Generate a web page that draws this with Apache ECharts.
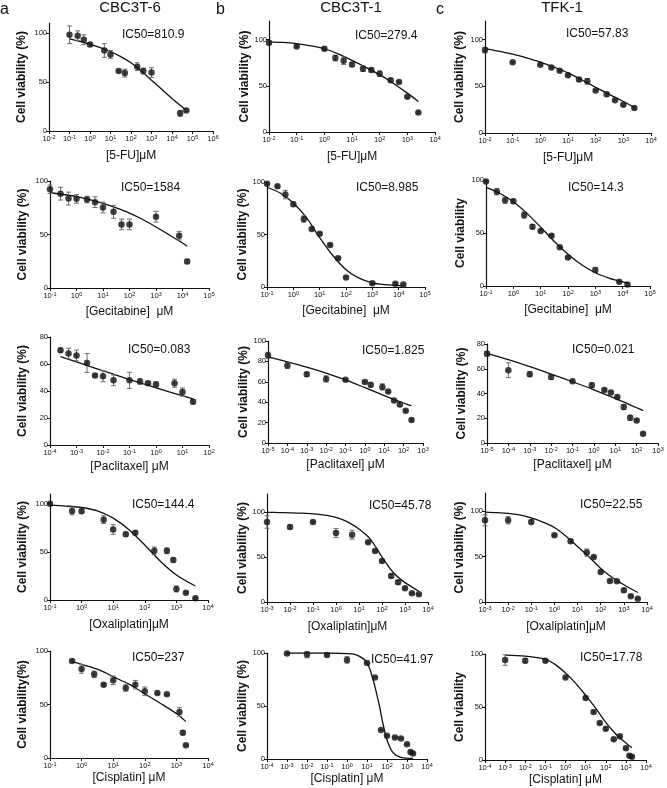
<!DOCTYPE html>
<html>
<head>
<meta charset="utf-8">
<script src="https://cdn.jsdelivr.net/npm/echarts@6/dist/echarts.min.js"></script>
<style>
    html, body { margin: 0; padding: 0; background: #fff; }
    #chart { width: 667px; height: 788px; }
</style>
</head>
<body>
<div id="chart"></div>
<script>
    // ---- tick lists ----
    var yTicks50 = [0, 50, 100];
    var yTicks20 = [0, 20, 40, 60, 80];
    var yTicks20b = [0, 20, 40, 60, 80, 100];
    var decM2to6 = [1e-2, 1e-1, 1, 10, 100, 1e3, 1e4, 1e5, 1e6];
    var decM2to4 = [1e-2, 1e-1, 1, 10, 100, 1e3, 1e4];
    var decM1to5 = [1e-1, 1, 10, 100, 1e3, 1e4, 1e5];
    var decM4to2 = [1e-4, 1e-3, 1e-2, 1e-1, 1, 10, 100];
    var decM5to3 = [1e-5, 1e-4, 1e-3, 1e-2, 1e-1, 1, 10, 100, 1e3];
    var decM1to4 = [1e-1, 1, 10, 100, 1e3, 1e4];
    var decM3to4 = [1e-3, 1e-2, 1e-1, 1, 10, 100, 1e3, 1e4];
    var decM4to4 = [1e-4, 1e-3, 1e-2, 1e-1, 1, 10, 100, 1e3, 1e4];

    // ---- row 1 : 5-FU ----
    var a1Dose = [0.1, 0.25, 0.5, 1, 5, 10, 25, 50, 200, 400, 1000, 25000, 50000];
    var a1Via = [98, 97, 93, 88, 82, 78, 61, 59, 65.5, 61, 59.5, 18, 21];
    var a1Err = [9, 5, 5, 2, 7, 4, 1, 4, 4, 3, 5, 3, 1];
    var a1FitX = [0.1, 0.316, 1, 3.16, 10, 31.6, 100, 316, 1000, 3162, 10000, 31623, 50000];
    var a1FitY = [93.8, 91.2, 88.3, 85, 81, 75.8, 69.5, 61.2, 51.8, 42.5, 33.2, 24.5, 21.5];

    var fuDose = [0.01, 0.1, 1, 2.5, 5, 10, 25, 50, 100, 250, 500, 1000, 2500];
    var b1Via = [96.4, 92.5, 90, 80, 77, 73, 68.5, 67, 63, 56, 54, 38, 21];
    var b1Err = [2, 1, 2, 3, 4, 2, 3, 2, 3, 2, 1, 1, 1];
    var b1FitX = [0.01, 0.0316, 0.1, 0.316, 1, 3.16, 10, 31.6, 100, 316, 1000, 2500];
    var b1FitY = [97.5, 96.8, 95.5, 93.2, 90, 84.5, 77.5, 70, 62, 52.5, 42, 33];

    var c1Via = [88.8, 75.8, 73, 70.2, 66.7, 61.8, 57.2, 55.4, 45.6, 41.4, 35.1, 30.2, 26.7];
    var c1Err = [3, 1, 1, 1, 1, 1, 2, 3, 1, 2, 1, 1, 1];
    var c1FitX = [0.01, 0.0316, 0.1, 0.316, 1, 3.16, 10, 31.6, 100, 316, 1000, 2500];
    var c1FitY = [90.5, 87.7, 84.5, 80.5, 76, 70.5, 64.5, 56.8, 49, 41.2, 33.8, 27.5];

    // ---- row 2 : gemcitabine ----
    var gemDose = [0.1, 0.25, 0.5, 1, 2.5, 5, 10, 25, 50, 100, 1000, 7500, 15000];
    var a2Via = [92.3, 88.2, 83.6, 83.3, 82.7, 80.2, 75.2, 71.2, 59.4, 59.4, 66.6, 48.9, 24.8];
    var a2Err = [4, 6, 6, 4, 3, 5, 5, 6, 5, 5, 5, 4, 2];
    var a2FitX = [0.1, 0.316, 1, 3.16, 10, 31.6, 100, 316, 1000, 3162, 10000, 15000];
    var a2FitY = [89, 87.4, 85.5, 82.6, 79, 74.8, 70, 64, 57, 49.6, 42, 39];

    var b2Via = [98.4, 96, 88, 78.9, 64.7, 55.2, 50.8, 40, 27.4, 9, 3.5, 3, 2.5];
    var b2Err = [1, 1, 4, 2, 3, 1, 1, 1, 1, 1, 1, 1, 1];
    var b2FitX = [0.1, 0.316, 1, 3.16, 10, 31.6, 100, 316, 1000, 3162, 10000, 15000];
    var b2FitY = [95, 89.5, 80, 66, 47, 30, 16.5, 8.5, 4, 2.2, 1.3, 1.1];

    var c2Via = [98.7, 89, 81, 80, 67, 56, 52, 47.5, 36.5, 27, 15, 4, 1.3];
    var c2Err = [1, 3, 3, 2, 3, 2, 1, 1, 1, 1, 2, 1, 1];
    var c2FitX = [0.1, 0.316, 1, 3.16, 10, 31.6, 100, 316, 1000, 3162, 10000, 15000];
    var c2FitY = [93, 87.5, 79.5, 68.5, 55.5, 42, 30, 20, 12.5, 7.5, 3.8, 3];

    // ---- row 3 : paclitaxel ----
    var a3Dose = [0.00025, 0.0005, 0.001, 0.0025, 0.005, 0.01, 0.025, 0.1, 0.25, 0.5, 1, 5, 10, 25];
    var a3Via = [70.2, 67.7, 66.3, 60.8, 51.4, 50.9, 47.9, 47.9, 47.1, 45.7, 44.9, 45.7, 39.2, 32];
    var a3Err = [1.5, 4, 4, 7, 1, 4, 4, 6, 2, 1, 2, 3, 3, 1.5];
    var a3FitX = [0.00025, 0.001, 0.00316, 0.01, 0.0316, 0.1, 0.316, 1, 3.16, 10, 25];
    var a3FitY = [65.5, 61.6, 58.3, 55, 51.7, 48.5, 45.4, 42.4, 39.4, 36.5, 34.2];

    var b3Dose = [1e-5, 1e-4, 1e-3, 0.01, 0.1, 1, 2, 8, 16, 32, 64, 128, 256];
    var b3Via = [86, 76, 67.3, 62.8, 61.9, 59.7, 57, 55, 50.5, 41.7, 37.7, 31.5, 22.5];
    var b3Err = [3, 3, 2, 3, 1, 1, 2, 3, 1, 1, 2, 1, 1];
    var b3FitX = [1e-5, 1e-4, 1e-3, 0.01, 0.1, 1, 10, 100, 256];
    var b3FitY = [84.4, 79.6, 74.4, 68.6, 61.8, 54.2, 46.4, 39.2, 36.3];

    var c3Dose = [1e-5, 1e-4, 1e-3, 0.01, 0.1, 0.8, 3.1, 6.25, 12.5, 25, 50, 100, 200];
    var c3Via = [72.2, 58.8, 55.6, 53.4, 50, 46.7, 42.9, 40.8, 37.1, 29, 20.4, 18.2, 7.5];
    var c3Err = [2, 6, 2, 2, 1, 2, 1, 1, 1, 2, 2, 1, 1];
    var c3FitX = [1e-5, 1e-4, 1e-3, 0.01, 0.1, 1, 10, 100, 200];
    var c3FitY = [72.5, 67.3, 61.7, 55.7, 49.5, 43, 36, 28.5, 26.2];

    // ---- row 4 : oxaliplatin ----
    var a4Dose = [0.1, 0.5, 1, 5, 10, 25, 50, 200, 500, 800, 1000, 2000, 4000];
    var a4Via = [100, 92.4, 92.1, 83.4, 73.1, 68.3, 69.7, 51, 51, 41.4, 11.4, 7.6, 1.7];
    var a4Err = [1, 4, 2, 4, 5, 2, 2, 4, 3, 2, 3, 1, 1];
    var a4FitX = [0.1, 0.316, 1, 3.16, 10, 31.6, 100, 316, 1000, 4000];
    var a4FitY = [98.5, 97.5, 96, 92.5, 85, 73, 57, 40, 26, 14.5];

    var oxaDose = [0.001, 0.01, 0.1, 1, 5, 25, 50, 100, 250, 500, 1000, 2000, 4000];
    var b4Via = [88.9, 83.3, 88.9, 76.7, 74.8, 66.3, 56.7, 45.6, 28.9, 21.9, 15.2, 9.6, 8.5];
    var b4Err = [7, 2, 1, 5, 5, 1, 1, 1, 2, 2, 1, 1, 1];
    var b4FitX = [0.001, 0.00316, 0.01, 0.0316, 0.1, 0.316, 1, 3.16, 10, 31.6, 100, 316, 1000, 4000];
    var b4FitY = [99.6, 99.4, 99.1, 98.7, 98, 96.5, 94, 89, 81, 69.5, 50, 32.5, 21.5, 12];

    var c4Via = [90, 90, 88.2, 73.5, 66.9, 54.4, 49.6, 33.1, 23.2, 22.9, 12.9, 6.3, 3.7];
    var c4Err = [6, 4, 2, 1, 2, 4, 1, 1, 1, 1, 2, 1, 1];
    var c4FitX = [0.001, 0.00316, 0.01, 0.0316, 0.1, 0.316, 1, 3.16, 10, 31.6, 100, 316, 1000, 4000];
    var c4FitY = [99, 98.4, 97.5, 95.8, 92.5, 88, 82, 72.5, 61, 49.5, 37, 27, 19, 10.5];

    // ---- row 5 : cisplatin ----
    var a5Dose = [0.5, 1, 2.5, 5, 10, 25, 50, 100, 250, 500, 1250, 1600, 2000];
    var a5Via = [90.7, 83.2, 78.2, 68.5, 72.6, 65.4, 68.5, 62.3, 60.7, 59.5, 43, 23.7, 11.8];
    var a5Err = [1, 4, 3, 1, 4, 3, 4, 4, 1, 1, 4, 2, 1];
    var a5FitX = [0.5, 1, 3.16, 10, 31.6, 100, 316, 1000, 2000];
    var a5FitY = [90, 87.5, 83, 76, 69, 60, 51, 41.5, 34];

    var cisDose = [0.001, 0.01, 0.1, 1, 10, 25, 50, 100, 250, 500, 1000, 1500, 2000];
    var b5Via = [99.5, 98.5, 98.1, 93.5, 90.6, 77, 27.3, 22, 20.4, 19.4, 13.8, 6.6, 5.3];
    var b5Err = [1, 3, 1, 3, 0.5, 0.5, 0.5, 0.5, 0.5, 0.5, 0.5, 1, 1];
    var b5FitX = [0.001, 0.1, 1, 3.16, 10, 20, 30, 42, 60, 100, 200, 500, 2000];
    var b5FitY = [100, 100, 99.5, 98, 91, 75, 62, 50, 35, 18, 6, 1.5, 0.5];

    var c5Via = [94.3, 93.6, 93.6, 77.9, 58.5, 45.2, 34.8, 29.4, 19.6, 22.4, 11, 4.1, 3.1];
    var c5Err = [5, 2, 1, 1, 1, 1, 1, 1, 1, 1, 1, 1, 1];
    var c5FitX = [0.001, 0.01, 0.1, 0.316, 1, 3.16, 10, 31.6, 100, 316, 1000, 2000];
    var c5FitY = [99, 98, 95, 90, 82, 72.5, 61, 49, 35.5, 24.5, 16, 11.5];

    var cellLines = ['CBC3T-6', 'CBC3T-1', 'TFK-1'];
    var panelLetters = ['a', 'b', 'c'];

    var FONT = '"Liberation Sans", Arial, sans-serif';
    var viaPct = 'Cell viability (%)';

    // g = [left, top, width, height], icAt = [left, middle y] of the IC50 text
    var panels = [
        {g: [49, 23, 164, 108], x: decM2to6, yMax: 110, yt: yTicks50, dose: a1Dose, via: a1Via, err: a1Err, fx: a1FitX, fy: a1FitY, ic: 'IC50=810.9', icAt: [122, 35], yName: viaPct, xName: '[5-FU]μM', yGap: 21, xGap: 19},
        {g: [269, 21, 166, 111], x: decM2to4, yMax: 120, yt: yTicks50, dose: fuDose, via: b1Via, err: b1Err, fx: b1FitX, fy: b1FitY, ic: 'IC50=279.4', icAt: [355, 36], yName: viaPct, xName: '[5-FU]μM', yGap: 17, xGap: 19},
        {g: [485, 21, 166, 112], x: decM2to4, yMax: 120, yt: yTicks50, dose: fuDose, via: c1Via, err: c1Err, fx: c1FitX, fy: c1FitY, ic: 'IC50=57.83', icAt: [566, 34], yName: viaPct, xName: '[5-FU]μM', yGap: 19, xGap: 19},

        {g: [50, 181, 159, 107], x: decM1to5, yMax: 100, yt: yTicks50, dose: gemDose, via: a2Via, err: a2Err, fx: a2FitX, fy: a2FitY, ic: 'IC50=1584', icAt: [121, 188], yName: viaPct, xName: '[Gecitabine]  μM', yGap: 21, xGap: 18},
        {g: [267, 182, 158, 105], x: decM1to5, yMax: 100, yt: yTicks50, dose: gemDose, via: b2Via, err: b2Err, fx: b2FitX, fy: b2FitY, ic: 'IC50=8.985', icAt: [356, 188], yName: viaPct, xName: '[Gecitabine]  μM', yGap: 17, xGap: 18},
        {g: [486, 180, 164, 106], x: decM1to5, yMax: 100, yt: yTicks50, dose: gemDose, via: c2Via, err: c2Err, fx: c2FitX, fy: c2FitY, ic: 'IC50=14.3', icAt: [568, 188], yName: 'Cell viability', xName: '[Gecitabine]  μM', yGap: 19, xGap: 18},

        {g: [50, 337, 159, 108], x: decM4to2, yMax: 80, yt: yTicks20, dose: a3Dose, via: a3Via, err: a3Err, fx: a3FitX, fy: a3FitY, ic: 'IC50=0.083', icAt: [128, 350], yName: viaPct, xName: '[Paclitaxel] μM', yGap: 21, xGap: 16},
        {g: [268, 341, 155, 102], x: decM5to3, yMax: 100, yt: yTicks20b, dose: b3Dose, via: b3Via, err: b3Err, fx: b3FitX, fy: b3FitY, ic: 'IC50=1.825', icAt: [362, 351], yName: viaPct, xName: '[Paclitaxel] μM', yGap: 17, xGap: 16},
        {g: [487, 344, 171, 99], x: decM5to3, yMax: 80, yt: yTicks20, dose: c3Dose, via: c3Via, err: c3Err, fx: c3FitX, fy: c3FitY, ic: 'IC50=0.021', icAt: [572, 350], yName: viaPct, xName: '[Paclitaxel] μM', yGap: 19, xGap: 16},

        {g: [50, 494, 158, 106], x: decM1to4, yMax: 110, yt: yTicks50, dose: a4Dose, via: a4Via, err: a4Err, fx: a4FitX, fy: a4FitY, ic: 'IC50=144.4', icAt: [132, 505], yName: viaPct, xName: '[Oxaliplatin]μM', yGap: 21, xGap: 19},
        {g: [267, 494, 161, 108], x: decM3to4, yMax: 120, yt: yTicks50, dose: oxaDose, via: b4Via, err: b4Err, fx: b4FitX, fy: b4FitY, ic: 'IC50=45.78', icAt: [369, 506], yName: viaPct, xName: '[Oxaliplatin]μM', yGap: 17, xGap: 19},
        {g: [485, 493, 162, 109], x: decM3to4, yMax: 120, yt: yTicks50, dose: oxaDose, via: c4Via, err: c4Err, fx: c4FitX, fy: c4FitY, ic: 'IC50=22.55', icAt: [580, 505], yName: viaPct, xName: '[Oxaliplatin]μM', yGap: 19, xGap: 19},

        {g: [50, 651, 158, 107], x: decM1to4, yMax: 100, yt: yTicks50, dose: a5Dose, via: a5Via, err: a5Err, fx: a5FitX, fy: a5FitY, ic: 'IC50=237', icAt: [132, 658], yName: 'Cell viability(%)', xName: '[Cisplatin] μM', yGap: 21, xGap: 13},
        {g: [267, 653, 160, 106], x: decM4to4, yMax: 100, yt: yTicks50, dose: cisDose, via: b5Via, err: b5Err, fx: b5FitX, fy: b5FitY, ic: 'IC50=41.97', icAt: [371, 660], yName: viaPct, xName: '[Cisplatin] μM', yGap: 17, xGap: 13},
        {g: [485, 654, 161, 106], x: decM4to4, yMax: 100, yt: yTicks50, dose: cisDose, via: c5Via, err: c5Err, fx: c5FitX, fy: c5FitY, ic: 'IC50=17.78', icAt: [580, 658], yName: 'Cell viability', xName: '[Cisplatin] μM', yGap: 19, xGap: 13}
    ];

    function decadeLabel(v) {
        var e = Math.round(Math.log(v) / Math.LN10);
        return '10{s|' + e + '}';
    }

    // error bar with small caps, drawn through the axis scales
    function errorBar(params, api) {
        var x = api.value(0), y = api.value(1), e = api.value(2);
        var hi = api.coord([x, y + e]);
        var lo = api.coord([x, Math.max(y - e, 0.01)]);
        var w = 2.5;
        var st = {stroke: '#6f6f6f', lineWidth: 1};
        return {
            type: 'group',
            children: [
                {type: 'line', shape: {x1: hi[0], y1: hi[1], x2: lo[0], y2: lo[1]}, style: st},
                {type: 'line', shape: {x1: hi[0] - w, y1: hi[1], x2: hi[0] + w, y2: hi[1]}, style: st},
                {type: 'line', shape: {x1: lo[0] - w, y1: lo[1], x2: lo[0] + w, y2: lo[1]}, style: st}
            ]
        };
    }

    var grids = [], xAxes = [], yAxes = [], series = [], texts = [];

    panels.forEach(function (p, i) {
        grids.push({left: p.g[0], top: p.g[1], width: p.g[2], height: p.g[3], containLabel: false});
        xAxes.push({
            gridIndex: i,
            type: 'log',
            logBase: 10,
            min: p.x[0],
            max: p.x[p.x.length - 1],
            name: p.xName,
            nameLocation: 'middle',
            nameGap: p.xGap,
            nameTextStyle: {fontSize: 12, color: '#111', fontFamily: FONT},
            axisLine: {onZero: false, lineStyle: {color: '#111', width: 1.2}},
            axisTick: {customValues: p.x, length: 3, lineStyle: {color: '#111', width: 1}},
            minorTick: {show: false},
            splitLine: {show: false},
            axisLabel: {
                customValues: p.x,
                formatter: decadeLabel,
                margin: 3,
                fontSize: 7.5,
                lineHeight: 10,
                color: '#111',
                fontFamily: FONT,
                rich: {s: {fontSize: 5.5, lineHeight: 5.5, verticalAlign: 'top', color: '#111', fontFamily: FONT}}
            }
        });
        yAxes.push({
            gridIndex: i,
            type: 'value',
            min: 0,
            max: p.yMax,
            interval: p.yt[1] - p.yt[0],
            name: p.yName,
            nameLocation: 'middle',
            nameGap: p.yGap,
            nameTextStyle: {fontSize: 12, fontWeight: 'bold', color: '#111', fontFamily: FONT},
            axisLine: {show: true, lineStyle: {color: '#111', width: 1.2}},
            axisTick: {show: true, customValues: p.yt, length: 3, lineStyle: {color: '#111', width: 1}},
            splitLine: {show: false},
            axisLabel: {customValues: p.yt, margin: 2, fontSize: 7.5, color: '#111', fontFamily: FONT}
        });

        var pts = p.dose.map(function (d, k) { return [d, p.via[k], p.err[k]]; });
        var fit = p.fx.map(function (d, k) { return [d, p.fy[k]]; });

        series.push({
            type: 'line', xAxisIndex: i, yAxisIndex: i, data: fit,
            smooth: 0.3, showSymbol: false, symbol: 'none',
            lineStyle: {color: '#111', width: 1.3}, silent: true, z: 2
        });
        series.push({
            type: 'custom', xAxisIndex: i, yAxisIndex: i, data: pts,
            renderItem: errorBar, encode: {x: 0, y: 1}, silent: true, z: 3
        });
        series.push({
            type: 'scatter', xAxisIndex: i, yAxisIndex: i,
            data: pts.map(function (q) { return [q[0], q[1]]; }),
            symbol: 'circle', symbolSize: 6.5,
            itemStyle: {color: '#111'}, silent: true, z: 4
        });

        texts.push({
            type: 'text', x: p.icAt[0], y: p.icAt[1],
            style: {text: p.ic, fontSize: 12, fontFamily: FONT, fill: '#111', align: 'left', verticalAlign: 'middle'}
        });
    });

    // column headings and panel letters
    var headX = [130, 351, 562];
    var letterX = [0, 216, 436];
    cellLines.forEach(function (name, c) {
        texts.push({type: 'text', x: headX[c], y: 8,
            style: {text: name, fontSize: 15, fontFamily: FONT, fill: '#111', align: 'center', verticalAlign: 'middle'}});
        texts.push({type: 'text', x: letterX[c], y: 10,
            style: {text: panelLetters[c], fontSize: 16, fontFamily: FONT, fill: '#111', align: 'left', verticalAlign: 'middle'}});
    });

    var myChart = echarts.init(document.getElementById('chart'), null, {renderer: 'canvas'});
    myChart.setOption({
        backgroundColor: '#ffffff',
        animation: false,
        textStyle: {fontFamily: FONT},
        grid: grids,
        xAxis: xAxes,
        yAxis: yAxes,
        series: series,
        graphic: texts
    });
</script>
</body>
</html>
